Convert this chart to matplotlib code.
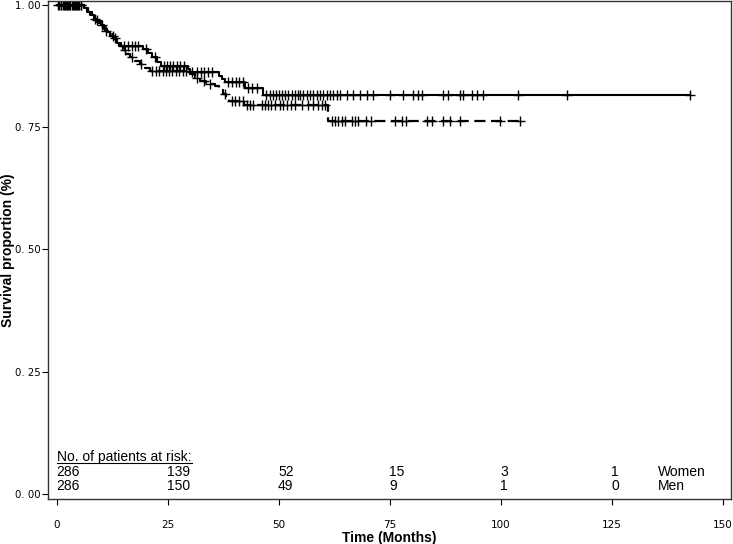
import numpy as np
import matplotlib
matplotlib.use("Agg")
import matplotlib.pyplot as plt

# ---------------- data ----------------
women_times = [0, 6.0, 6.8, 7.5, 8.3, 9.0, 9.8, 10.5, 11.2, 12.0, 12.8, 13.5, 14.5,
               19.3, 20.5, 21.5, 22.6, 23.5, 29.5, 30.0, 36.5, 37.2, 37.8, 42.3, 46.3]
women_surv = [1.0, 0.993, 0.986, 0.979, 0.972, 0.965, 0.958, 0.951, 0.944, 0.937, 0.930,
              0.923, 0.916, 0.909, 0.902, 0.893, 0.884, 0.875, 0.869, 0.863, 0.855,
              0.848, 0.842, 0.830, 0.816]
women_end = 142.6
women_censor = [0.5, 1.0, 1.5, 2.0, 2.5, 3.0, 3.5, 4.0, 4.5, 5.0, 5.5,
                8.5, 10.2, 12.5, 15.0, 16.0, 16.8, 17.5, 18.2, 20.0, 22.0,
                24.0, 24.8, 25.5, 26.2, 27.0, 27.8, 28.5, 30.5, 31.5, 32.5, 33.2,
                34.0, 35.0, 38.5, 39.5, 40.3, 41.0, 41.8, 43.0, 44.0, 45.0, 47.0,
                48.0, 48.6, 49.3, 50.0, 50.7, 51.4, 52.0, 52.9, 53.6, 54.3, 54.7,
                55.4, 56.3, 57.0, 57.7, 58.6, 59.2, 59.9, 60.8, 61.5, 62.2, 63.1,
                63.7, 65.3, 66.7, 68.2, 69.8, 71.2, 75.0, 77.9, 80.2, 81.3, 82.2,
                86.9, 88.0, 90.8, 91.4, 93.5, 94.6, 95.9, 103.8, 114.9, 142.6]

men_times = [0, 6.3, 7.0, 7.8, 8.5, 9.2, 10.0, 10.8, 11.7, 12.5, 13.3, 14.0, 14.8,
             15.6, 16.5, 17.5, 18.6, 19.8, 21.0, 30.0, 31.0, 32.2, 33.5, 35.5, 36.5,
             37.3, 38.0, 38.8, 42.2, 61.0]
men_surv = [1.0, 0.993, 0.986, 0.978, 0.970, 0.962, 0.955, 0.947, 0.940, 0.932, 0.924,
            0.916, 0.908, 0.900, 0.893, 0.886, 0.879, 0.872, 0.865, 0.858, 0.851,
            0.845, 0.839, 0.834, 0.826, 0.818, 0.810, 0.803, 0.795, 0.762]
men_end = 104.3
men_censor = [0.3, 0.8, 1.3, 1.8, 2.3, 2.8, 3.3, 3.8, 4.3, 4.8, 5.3,
              9.0, 11.0, 13.0, 15.2, 17.0, 19.0, 21.5, 22.2, 23.0, 23.8, 24.5,
              25.3, 26.0, 26.8, 27.5, 28.3, 29.0, 31.5, 33.0, 34.5, 37.8, 39.5,
              40.2, 41.0, 41.8, 42.7, 43.4, 44.1, 46.1, 46.8, 47.5, 48.3, 49.1,
              50.2, 50.9, 51.7, 52.8, 53.6, 55.1, 56.5, 57.7, 58.8, 59.6, 60.4,
              61.9, 62.6, 63.3, 64.1, 64.9, 66.4, 67.1, 67.8, 69.7, 70.8, 76.1,
              77.6, 78.7, 83.3, 84.4, 86.9, 88.5, 90.8, 99.8, 104.3]

risk_times = [0, 25, 50, 75, 100, 125]
risk_women = [286, 139, 52, 15, 3, 1]
risk_men = [286, 150, 49, 9, 1, 0]
group_labels = ["Women", "Men"]

x_ticks = [0, 25, 50, 75, 100, 125, 150]
y_ticks = [0.0, 0.25, 0.5, 0.75, 1.0]
y_tick_labels = ["0. 00", "0. 25", "0. 50", "0. 75", "1. 00"]

# ---------------- plotting ----------------
plt.rcParams['font.family'] = ['Liberation Sans', 'DejaVu Sans']

W, H = 733, 544
fig = plt.figure(figsize=(W / 100, H / 100), dpi=100)
ax = fig.add_axes([48 / W, 45 / H, (731 - 48) / W, (543 - 45) / H])


def step_arrays(times, surv, end):
    t = list(times) + [end]
    s = list(surv) + [surv[-1]]
    return np.array(t), np.array(s)


def surv_at(times, surv, t):
    idx = np.searchsorted(np.array(times), np.array(t), side='right') - 1
    return np.array(surv)[idx]


tw, sw = step_arrays(women_times, women_surv, women_end)
tm, sm = step_arrays(men_times, men_surv, men_end)

ax.step(tw, sw, where='post', color='black', lw=1.5)
ax.step(tm, sm, where='post', color='black', lw=1.6, linestyle=(0, (5, 2.5)))

ax.plot(women_censor, surv_at(women_times, women_surv, women_censor), linestyle='none',
        marker='+', markersize=6.5, mew=1.0, color='black')
ax.plot(men_censor, surv_at(men_times, men_surv, men_censor), linestyle='none',
        marker='+', markersize=6.5, mew=1.0, color='black')

ax.set_xlim(-2.03, 151.8)
ax.set_ylim(-0.0102, 1.008)

ax.set_xticks(x_ticks)
ax.set_xticklabels([str(v) for v in x_ticks], fontsize=7.5, family='DejaVu Sans')
ax.set_yticks(y_ticks)
ax.set_yticklabels(y_tick_labels, fontsize=7.3, family='DejaVu Sans')
ax.tick_params(axis='x', direction='out', length=4, width=0.8, pad=11)
ax.tick_params(axis='y', direction='out', length=4, width=0.8, pad=1)

for sp in ax.spines.values():
    sp.set_linewidth(1.0)
    sp.set_color('#333333')

fig.text(389.5 / W, 1 - 538 / H, "Time (Months)", fontsize=10, fontweight='bold',
         ha='center', va='center')
fig.text(8 / W, 1 - 250 / H, "Survival proportion (%)", fontsize=10, fontweight='bold',
         ha='center', va='center', rotation=90)

# risk table
trans = ax.get_xaxis_transform()
def ypix(py):
    return (H - py - 45) / (543 - 45)

title = ax.text(risk_times[0], ypix(456.5), "No. of patients at risk:", transform=trans,
                fontsize=10, ha='left', va='center')
for t, n in zip(risk_times, risk_women):
    ax.text(t - 0.2, ypix(471.5), str(n), transform=trans, fontsize=10, ha='left', va='center')
for t, n in zip(risk_times, risk_men):
    ax.text(t - 0.2, ypix(486), str(n), transform=trans, fontsize=10, ha='left', va='center')
ax.text(135.4, ypix(471.5), group_labels[0], transform=trans, fontsize=10, ha='left', va='center')
ax.text(135.4, ypix(486), group_labels[1], transform=trans, fontsize=10, ha='left', va='center')

# underline for the title
fig.canvas.draw()
bb = title.get_window_extent(renderer=fig.canvas.get_renderer())
inv = ax.transData.inverted()
x0 = inv.transform((bb.x0, bb.y0))[0]
x1 = inv.transform((bb.x1, bb.y0))[0]
ax.plot([x0, x1], [ypix(462.5), ypix(462.5)], transform=trans, color='black', lw=0.8)

fig.savefig("out.png", dpi=100)
